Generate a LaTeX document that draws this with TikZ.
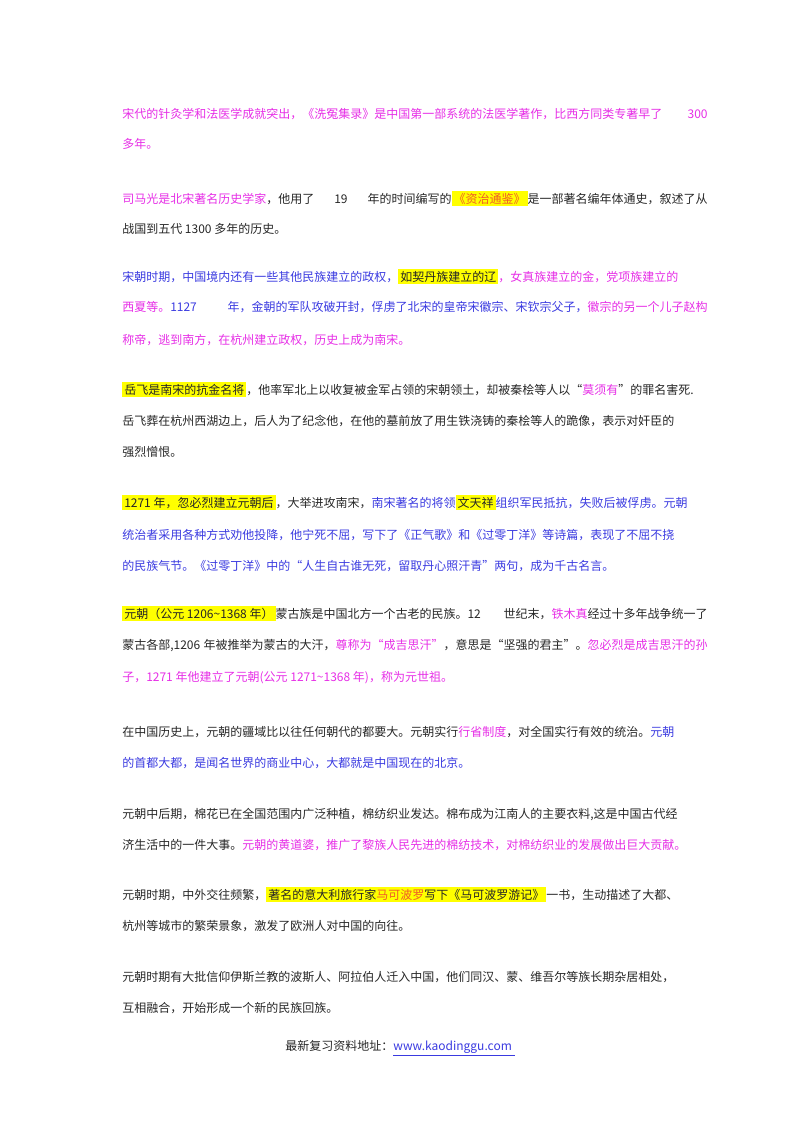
\documentclass[tikz,border=0pt]{standalone}
\usepackage{fontspec}
\setmainfont{Noto Sans CJK SC}
\XeTeXlinebreaklocale "zh"
\XeTeXlinebreakskip=0pt plus 3pt
\definecolor{mg}{HTML}{E62EE6}
\definecolor{bl}{HTML}{3A3AE0}
\definecolor{tx}{HTML}{262626}
\definecolor{hy}{HTML}{FFFF00}
\definecolor{or}{HTML}{F05A28}
\newcommand{\M}[1]{\textcolor{mg}{#1}}
\newcommand{\B}[1]{\textcolor{bl}{#1}}
\newcommand{\HL}[1]{{\setlength\fboxsep{1.5pt}\colorbox{hy}{#1}}}
\newcommand{\FL}[1]{\makebox[439pt][s]{#1}}
\tikzset{ln/.style={anchor=base west,inner sep=0pt,font=\fontsize{9pt}{11pt}\selectfont,text=tx}}
\begin{document}
\begin{tikzpicture}[x=0.75pt,y=-0.75pt]
\useasboundingbox (0,0) rectangle (800,1132);
\node[ln] (a1) at (122,118) {\FL{\M{宋代的针灸学和法医学成就突出，《洗冤集录》是中国第一部系统的法医学著作，比西方同类专著早了 300}}};
\node[ln] (a2) at (122,148) {\M{多年。}};
\node[ln] (b1) at (122,203) {\FL{\M{司马光是北宋著名历史学家}，他用了 19 年的时间编写的\HL{\textcolor{or}{《资治通鉴》}}是一部著名编年体通史，叙述了从}};
\node[ln] (b2) at (122,233) {战国到五代 1300 多年的历史。};
\node[ln] (c1) at (122,281) {\FL{\B{宋朝时期，中国境内还有一些其他民族建立的政权，}\HL{如契丹族建立的辽}\M{，女真族建立的金，党项族建立的}}};
\node[ln] (c2) at (122,311) {\FL{\M{西夏等。}\B{1127 年，金朝的军队攻破开封，俘虏了北宋的皇帝宋徽宗、宋钦宗父子，}\M{徽宗的另一个儿子赵构}}};
\node[ln] (c3) at (122,344) {\M{称帝，逃到南方，在杭州建立政权，历史上成为南宋。}};
\node[ln] (d1) at (122,394) {\FL{\HL{岳飞是南宋的抗金名将}，他率军北上以收复被金军占领的宋朝领土，却被秦桧等人以“\M{莫须有}”的罪名害死.}};
\node[ln] (d2) at (122,425) {\FL{岳飞葬在杭州西湖边上，后人为了纪念他，在他的墓前放了用生铁浇铸的秦桧等人的跪像，表示对奸臣的}};
\node[ln] (d3) at (122,456) {强烈憎恨。};
\node[ln] (e1) at (122,507) {\FL{\HL{1271 年，忽必烈建立元朝后}，大举进攻南宋，\B{南宋著名的将领}\HL{文天祥}\B{组织军民抵抗，失败后被俘虏。元朝}}};
\node[ln] (e2) at (122,539) {\FL{\B{统治者采用各种方式劝他投降，他宁死不屈，写下了《正气歌》和《过零丁洋》等诗篇，表现了不屈不挠}}};
\node[ln] (e3) at (122,570) {\B{的民族气节。《过零丁洋》中的“人生自古谁无死，留取丹心照汗青”两句，成为千古名言。}};
\node[ln] (f1) at (122,618) {\FL{\HL{元朝（公元 1206\textasciitilde1368 年）}蒙古族是中国北方一个古老的民族。12 世纪末，\M{铁木真}经过十多年战争统一了}};
\node[ln] (f2) at (122,649) {\FL{蒙古各部,1206 年被推举为蒙古的大汗，\M{尊称为“成吉思汗”}，意思是“坚强的君主”。\M{忽必烈是成吉思汗的孙}}};
\node[ln] (f3) at (122,681) {\M{子，1271 年他建立了元朝(公元 1271\textasciitilde1368 年)，称为元世祖。}};
\node[ln] (g1) at (122,736) {\FL{在中国历史上，元朝的疆域比以往任何朝代的都要大。元朝实行\M{行省制度}，对全国实行有效的统治。\B{元朝}}};
\node[ln] (g2) at (122,767) {\B{的首都大都，是闻名世界的商业中心，大都就是中国现在的北京。}};
\node[ln] (h1) at (122,818) {\FL{元朝中后期，棉花已在全国范围内广泛种植，棉纺织业发达。棉布成为江南人的主要衣料,这是中国古代经}};
\node[ln] (h2) at (122,849) {\FL{济生活中的一件大事。\M{元朝的黄道婆，推广了黎族人民先进的棉纺技术，对棉纺织业的发展做出巨大贡献。}}};
\node[ln] (i1) at (122,899) {\FL{元朝时期，中外交往频繁，\HL{著名的意大利旅行家\textcolor{or}{马可波罗}写下《马可波罗游记》}一书，生动描述了大都、}};
\node[ln] (i2) at (122,930) {杭州等城市的繁荣景象，激发了欧洲人对中国的向往。};
\node[ln] (j1) at (122,981) {\FL{元朝时期有大批信仰伊斯兰教的波斯人、阿拉伯人迁入中国，他们同汉、蒙、维吾尔等族长期杂居相处，}};
\node[ln] (j2) at (122,1012) {互相融合，开始形成一个新的民族回族。};
\node[ln,anchor=base] (ft) at (400,1050) {最新复习资料地址：\B{\underline{www.kaodinggu.com\ }}};
\end{tikzpicture}
\end{document}
